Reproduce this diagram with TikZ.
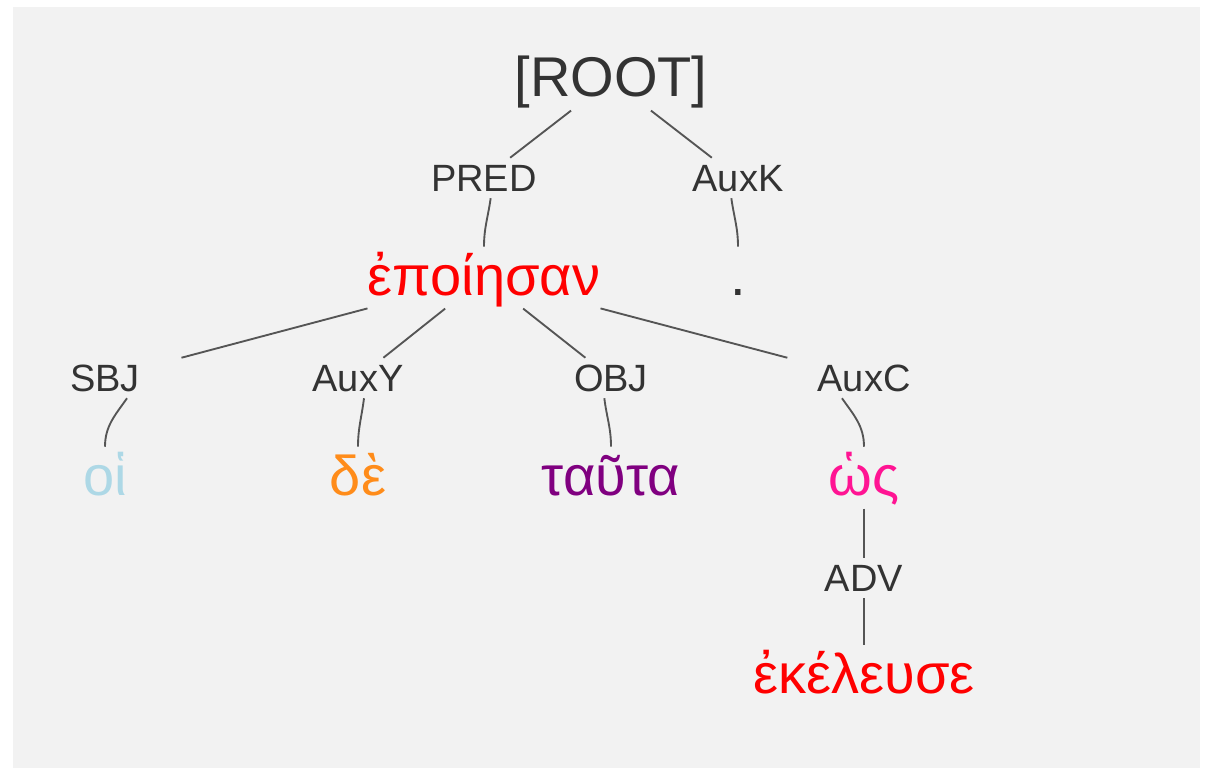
\documentclass[tikz,border=0pt]{standalone}
\usepackage{fontspec}
\setmainfont{Liberation Sans}
\usepackage{tikz}
\usepackage{xcolor}
\definecolor{bggray}{HTML}{F2F2F2}
\definecolor{labgray}{HTML}{333333}
\definecolor{linegray}{HTML}{555555}
\definecolor{oiblue}{HTML}{ADD8E6}
\definecolor{deorange}{HTML}{FF8C1A}
\definecolor{tautapurple}{HTML}{800080}
\definecolor{hospink}{HTML}{FF1493}
\tikzstyle{word} = [inner sep=0pt, anchor=base, text height=36pt, text depth=10pt, font=\fontsize{42}{50}\selectfont]
\tikzstyle{rel} = [inner sep=0pt, minimum height=30pt, minimum width=150pt, text height=20pt, text depth=0pt, text=labgray, font=\fontsize{28.5}{34}\selectfont]

\begin{document}
\begin{tikzpicture}[x=0.75pt,y=-0.75pt,every edge/.style={draw=linegray,line width=1.4pt}]
  \useasboundingbox (0,0) rectangle (1207,770);
  \fill[bggray] (13,7) rectangle (1200,768);

  \node[word,text=labgray] (W_root) at (611,97) {[ROOT]};
  \node[rel] (L_pred) at (484,178) {PRED};
  \node[rel] (L_auxk) at (738,178) {AuxK};
  \node[word,text=red] (W_epoiesan) at (484,295) {ἐποίησαν};
  \node[word,text=labgray] (W_punct) at (738,295) {.};
  \node[rel] (L_sbj) at (105,378) {SBJ};
  \node[rel] (L_auxy) at (358,378) {AuxY};
  \node[rel] (L_obj) at (611,378) {OBJ};
  \node[rel] (L_auxc) at (864,378) {AuxC};
  \node[word,text=oiblue] (W_oi) at (105,495) {οἱ};
  \node[word,text=deorange] (W_de) at (358,495) {δὲ};
  \node[word,text=tautapurple] (W_tauta) at (611,495) {ταῦτα};
  \node[word,text=hospink] (W_hos) at (864,495) {ὡς};
  \node[rel] (L_adv) at (864,578) {ADV};
  \node[word,text=red] (W_ekeleuse) at (864,693) {ἐκέλευσε};

  \path (W_root) edge (L_pred);
  \path (W_root) edge (L_auxk);
  \path ([xshift=5pt]L_pred.south) edge[out=-98,in=90] (W_epoiesan);
  \path ([xshift=-5pt]L_auxk.south) edge[out=-82,in=90] (W_punct);
  \path (W_epoiesan) edge (L_sbj);
  \path (W_epoiesan) edge (L_auxy);
  \path (W_epoiesan) edge (L_obj);
  \path (W_epoiesan) edge (L_auxc);
  \path ([xshift=16.5pt]L_sbj.south) edge[out=-125,in=90] (W_oi);
  \path ([xshift=4.5pt]L_auxy.south) edge[out=-97,in=90] (W_de);
  \path ([xshift=-5pt]L_obj.south) edge[out=-83,in=90] (W_tauta);
  \path ([xshift=-16.5pt]L_auxc.south) edge[out=-55,in=90] (W_hos);
  \path (W_hos) edge (L_adv);
  \path (L_adv) edge (W_ekeleuse);
\end{tikzpicture}
\end{document}
